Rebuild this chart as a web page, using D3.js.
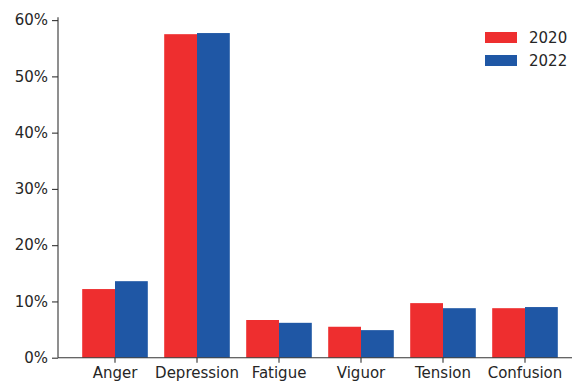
<!DOCTYPE html>
<html><head><meta charset="utf-8">
<script src="https://cdn.jsdelivr.net/npm/d3@7"></script>
<style>
html,body{margin:0;padding:0;background:#fff;}
svg{display:block;font-family:"DejaVu Sans",sans-serif;}
</style></head>
<body>
<svg id="chart" width="572" height="383"></svg>
<script>
const categories = ["Anger","Depression","Fatigue","Viguor","Tension","Confusion"];
const seriesNames = ["2020","2022"];
const values2020 = [12.2, 57.5, 6.7, 5.5, 9.7, 8.8];
const values2022 = [13.6, 57.7, 6.2, 4.9, 8.8, 9.0];
const yTicks = [0,10,20,30,40,50,60];
const colors = ["#ee2e2f","#1f57a5"];

const svg = d3.select("#chart");
const textColor = "#262626";
const axisColor = "#333333";

const x0 = d3.scaleBand().domain(categories).range([74, 566]).padding(0);
const x1 = d3.scaleBand().domain(seriesNames).range([0.1*x0.bandwidth(), 0.9*x0.bandwidth()]).padding(0);
const y = d3.scaleLinear().domain([0, 60.5]).range([357.7, 17.3]);

const data = categories.map((c,i)=>({cat:c, vals:[values2020[i], values2022[i]]}));

const g = svg.append("g");
const groups = g.selectAll("g.grp").data(data).enter().append("g")
  .attr("transform", d=>`translate(${x0(d.cat)},0)`);
groups.selectAll("rect").data(d=>d.vals.map((v,j)=>({name:seriesNames[j], v, j})))
  .enter().append("rect")
  .attr("x", d=>x1(d.name))
  .attr("width", x1.bandwidth())
  .attr("y", d=>y(d.v))
  .attr("height", d=>y(0)-y(d.v))
  .attr("fill", d=>colors[d.j]);

// y axis
const yAxis = d3.axisLeft(y).tickValues(yTicks).tickFormat(d=>d+"%").tickSize(6).tickPadding(4);
const ya = svg.append("g").attr("transform","translate(58,0)").call(yAxis);
ya.select(".domain").attr("d", `M0,${y(60.5)}V${y(0)}`).attr("stroke", axisColor).attr("stroke-width",1.1);
ya.selectAll(".tick line").attr("stroke", axisColor).attr("stroke-width",1.1);
ya.selectAll(".tick text").attr("fill", textColor).style("font-size","15px").style("font-family","DejaVu Sans");

// x axis
const xAxis = d3.axisBottom(x0).tickSize(5).tickPadding(5);
const xa = svg.append("g").attr("transform",`translate(0,${y(0)})`).call(xAxis);
xa.select(".domain").attr("d", `M58,0H572`).attr("stroke", axisColor).attr("stroke-width",1.1);
xa.selectAll(".tick line").attr("stroke", axisColor).attr("stroke-width",1.1);
xa.selectAll(".tick text").attr("fill", textColor).style("font-size","15px").style("font-family","DejaVu Sans");

// legend
const leg = svg.append("g").attr("transform","translate(485,32)");
seriesNames.forEach((n,i)=>{
  const row = leg.append("g").attr("transform",`translate(0,${i*23})`);
  row.append("rect").attr("width",32).attr("height",11).attr("fill",colors[i]);
  row.append("text").attr("x",44).attr("y",11).attr("fill",textColor)
    .style("font-size","15px").text(n);
});
</script>
</body></html>
